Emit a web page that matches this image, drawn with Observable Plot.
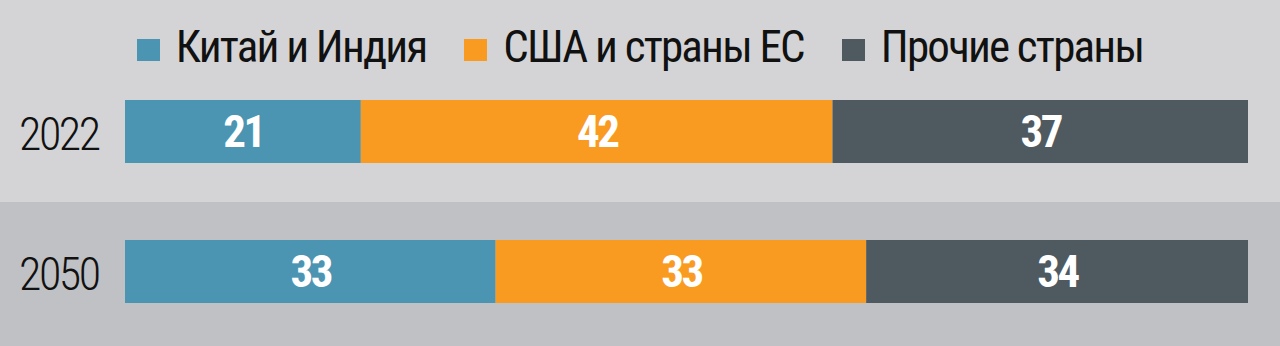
<!DOCTYPE html>
<html><head><meta charset="utf-8">
<script src="https://cdn.jsdelivr.net/npm/d3@7"></script>
<script src="https://cdn.jsdelivr.net/npm/@observablehq/plot@0.6"></script>
<style>
html,body{margin:0;padding:0;}
body{width:1280px;height:346px;overflow:hidden;background:linear-gradient(#d4d4d6 0px,#d4d4d6 202px,#c0c1c4 202px,#c0c1c4 346px);
 font-family:"Roboto Condensed","DejaVu Sans Condensed","Liberation Sans Narrow",sans-serif;}
#legend{height:80px;box-sizing:border-box;padding-top:20px;display:flex;justify-content:center;align-items:flex-start;gap:38px;font-size:45px;line-height:53px;color:#111;letter-spacing:-1.8px;}
#legend .item{display:flex;align-items:flex-start;gap:16px;}
#legend .sw{width:23px;height:22px;display:inline-block;margin-top:19px;}
svg{display:block;}
g[aria-label="y-axis tick label"] text{letter-spacing:-2.5px;font-weight:300;}
g[aria-label="text"] text{letter-spacing:-2.5px;}
</style></head>
<body>
<div id="legend"></div>
<div id="chart"></div>
<script>
const years = ["2022", "2050"];
const groups = ["Китай и Индия", "США и страны ЕС", "Прочие страны"];
const values2022 = [21, 42, 37];
const values2050 = [33, 33, 34];
const colors = ["#4b94b2", "#f99b21", "#4e5960"];

const series = [values2022, values2050];
const data = years.flatMap((y, i) => groups.map((g, j) => ({year: y, group: g, value: series[i][j]})));

const legend = document.getElementById("legend");
groups.forEach((g, j) => {
  const it = document.createElement("div"); it.className = "item";
  const sw = document.createElement("span"); sw.className = "sw"; sw.style.background = colors[j];
  const t = document.createElement("span"); t.textContent = g;
  it.append(sw, t); legend.append(it);
});

const chart = Plot.plot({
  width: 1280, height: 266,
  marginLeft: 125, marginRight: 32, marginTop: 5, marginBottom: 29,
  x: {domain: [0, 100], axis: null},
  y: {domain: years, paddingInner: 0.553, paddingOuter: 0.1, axis: null},
  color: {domain: groups, range: colors},
  style: {background: "transparent", fontFamily: "'Roboto Condensed','DejaVu Sans Condensed','Liberation Sans Narrow',sans-serif", color: "#111", overflow: "visible"},
  marks: [
    Plot.barX(data, Plot.stackX({x: "value", y: "year", fill: "group"})),
    Plot.text(data, Plot.stackX({x: "value", y: "year", z: "group", text: d => String(d.value), fill: "white", fontWeight: "bold", fontSize: 45, dy: 1})),
    Plot.axisY({tickSize: 0, tickPadding: 27, fontSize: 46, label: null, fill: "#111", dy: 3})
  ]
});
document.getElementById("chart").append(chart);
</script>
</body></html>
